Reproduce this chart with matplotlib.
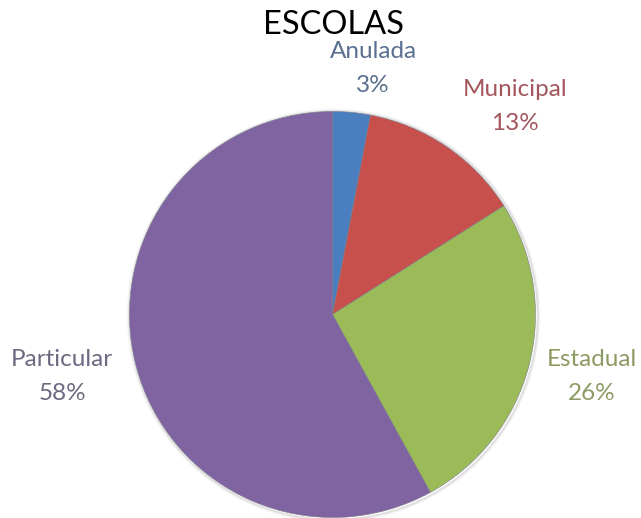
import matplotlib
matplotlib.use("Agg")
import matplotlib.pyplot as plt

categories = ["Anulada", "Municipal", "Estadual", "Particular"]
shares = [3, 13, 26, 58]
slice_colors = ["#4a7ebf", "#c8504c", "#9bbb59", "#8064a2"]
label_colors = ["#5b6f90", "#a3565c", "#8c9a63", "#6d6980"]
title = "ESCOLAS"

W, H = 641, 518
fig = plt.figure(figsize=(W / 100, H / 100), dpi=100)
ax = fig.add_axes([0, 0, 1, 1])

cx, cy, r = 332.5, H - 314.5, 203
wedges, _ = ax.pie(shares, colors=slice_colors, startangle=90, counterclock=False,
                   radius=r, center=(cx, cy), frame=True,
                   wedgeprops=dict(linewidth=0.4, edgecolor="#7a7a88"))
ax.set_xlim(0, W)
ax.set_ylim(0, H)
ax.set_axis_off()

# soft shadow ring around the pie
for i, a in enumerate([0.10, 0.06, 0.03]):
    ring = plt.Circle((cx + 1, cy - 1), r + 1 + i, fill=False,
                      edgecolor="black", alpha=a, linewidth=1.2, zorder=0)
    ax.add_patch(ring)

font = "Lato"
label_pos = [(373, 52), (515, 90), (592, 360), (62, 360)]
for name, v, col, (x, y) in zip(categories, shares, label_colors, label_pos):
    ax.text(x, H - y, name, ha="center", va="center", fontsize=17.5,
            color=col, family=font)
    ax.text(x, H - y - 34, f"{v}%", ha="center", va="center", fontsize=17.5,
            color=col, family=font)

ax.text(333, H - 25, title, ha="center", va="center", fontsize=23.5,
        color="black", family=font)

fig.savefig("out.png", dpi=100)
